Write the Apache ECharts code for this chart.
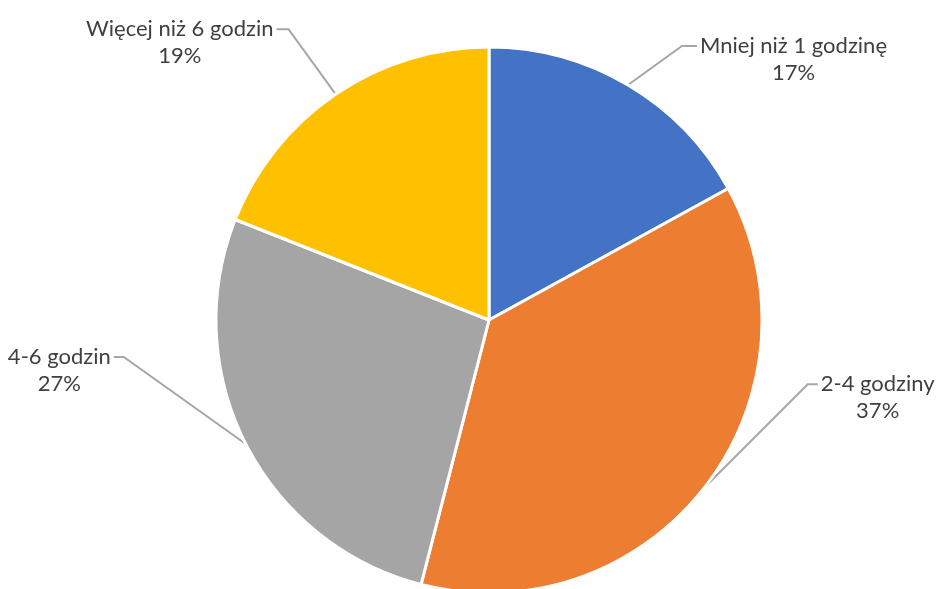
<!DOCTYPE html>
<html>
<head>
<meta charset="utf-8">
<script src="https://cdn.jsdelivr.net/npm/echarts@6/dist/echarts.min.js"></script>
<style>
  html, body { margin: 0; padding: 0; background: #ffffff; }
  #chart { width: 938px; height: 589px; }
</style>
</head>
<body>
<div id="chart"></div>
<script>
// Time spent per day – share of respondents
const categories = ['Mniej niż 1 godzinę', '2-4 godziny', '4-6 godzin', 'Więcej niż 6 godzin'];
const shares = [17, 37, 27, 19];
const sliceColors = ['#4472C4', '#ED7D31', '#A5A5A5', '#FFC000'];

// Leader lines: [dx, dy] bend from the slice edge, then a short horizontal run
const leaderBend = [[54, -39, 15], [103, -103, 10], [-122, -87, 10], [-47, -65, 12]];
const TEXT_GAP = 3;
const LINE_H = 27;

const chart = echarts.init(document.getElementById('chart'), null, { renderer: 'canvas' });

chart.setOption({
  animation: false,
  backgroundColor: '#ffffff',
  series: [{
    type: 'pie',
    center: [489, 320],
    radius: 273,
    startAngle: 90,
    clockwise: true,
    percentPrecision: 0,
    avoidLabelOverlap: false,
    data: categories.map((name, i) => ({
      name: name,
      value: shares[i],
      itemStyle: { color: sliceColors[i] }
    })),
    itemStyle: { borderColor: '#ffffff', borderWidth: 3 },
    label: {
      show: true,
      position: 'outside',
      formatter: '{b}\n{d}%',
      fontFamily: 'Lato',
      fontSize: 22,
      lineHeight: LINE_H,
      color: '#404040'
    },
    labelLine: {
      show: true,
      length: 10,
      length2: 10,
      lineStyle: { color: '#A6A6A6', width: 2 }
    },
    emphasis: { disabled: true },
    labelLayout: function (p) {
      const a = p.labelLinePoints[0];
      const b = leaderBend[p.dataIndex];
      const right = b[0] > 0;
      const elbow = [a[0] + b[0], a[1] + b[1]];
      const end = [elbow[0] + (right ? b[2] : -b[2]), elbow[1]];
      const w = p.labelRect.width;
      const x = right ? end[0] + TEXT_GAP + w / 2 : end[0] - TEXT_GAP - w / 2;
      return {
        x: x,
        y: elbow[1] - LINE_H / 2,
        align: 'center',
        verticalAlign: 'top',
        labelLinePoints: [a, elbow, end]
      };
    }
  }]
});
</script>
</body>
</html>
